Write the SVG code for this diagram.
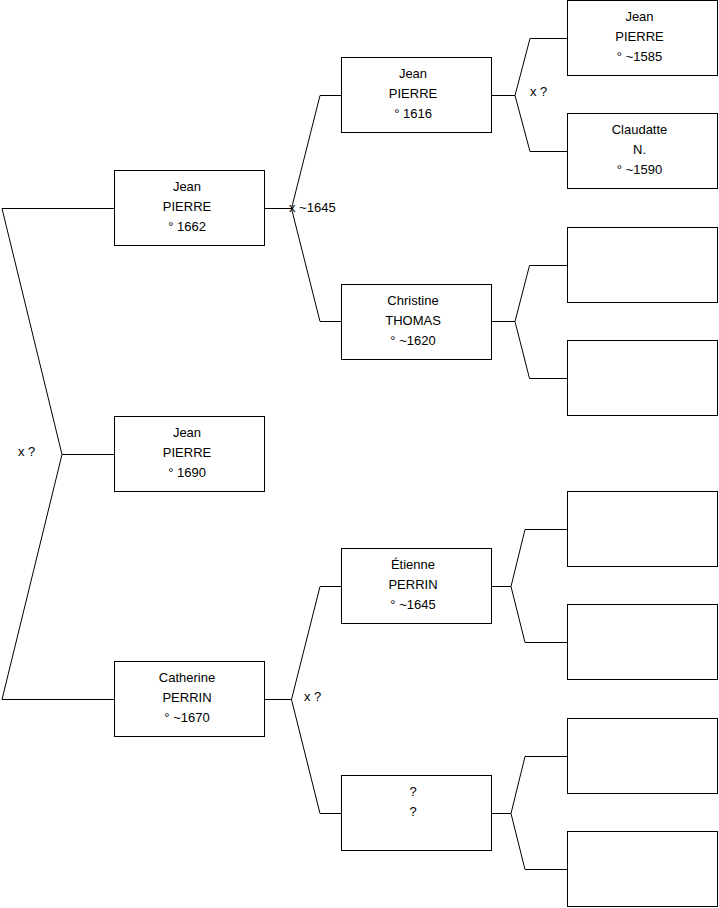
<svg xmlns="http://www.w3.org/2000/svg" width="719" height="908" viewBox="0 0 719 908">
<style>
.box rect{fill:#fff;stroke:#000;stroke-width:1}
text{font-family:"Liberation Sans",Arial,sans-serif;font-size:13px;fill:#000}
.box text{text-anchor:middle}
.conn path{fill:none;stroke:#000;stroke-width:1}
</style>
<rect width="719" height="908" fill="#fff"/>
<g class="conn" id="connectors">
<path d="M114,208.5 H2 L62,454.5 L2,699.5 H114 M62,454.5 H114"/>
<path d="M265,208.5 H291.5 L320,95.5 H341 M291.5,208.5 L320,321.5 H341"/>
<path d="M265,699.5 H291.5 L320,586.5 H341 M291.5,699.5 L320,813.5 H341"/>
<path d="M492,95.5 H515 L530,38.5 H567 M515,95.5 L530,151.5 H567"/>
<path d="M492,321.5 H515 L529.5,265.5 H567 M515,321.5 L529.5,378.5 H567"/>
<path d="M492,586.5 H511 L525,529.5 H567 M511,586.5 L525,642.5 H567"/>
<path d="M492,813.5 H511 L525,756.5 H567 M511,813.5 L525,869.5 H567"/>
</g>
<g id="labels">
<text x="18" y="456">x ?</text>
<text x="289" y="212">x ~1645</text>
<text x="530" y="96">x ?</text>
<text x="304" y="701">x ?</text>
</g>
<g class="box" id="p1"><rect x="114.5" y="170.5" width="150" height="75"/><text x="187" y="190.5">Jean</text><text x="187" y="210.5">PIERRE</text><text x="187" y="230.5">° 1662</text></g>
<g class="box" id="p0"><rect x="114.5" y="416.5" width="150" height="75"/><text x="187" y="436.5">Jean</text><text x="187" y="456.5">PIERRE</text><text x="187" y="476.5">° 1690</text></g>
<g class="box" id="p2"><rect x="114.5" y="661.5" width="150" height="75"/><text x="187" y="681.5">Catherine</text><text x="187" y="701.5">PERRIN</text><text x="187" y="721.5">° ~1670</text></g>
<g class="box" id="p3"><rect x="341.5" y="57.5" width="150" height="75"/><text x="413" y="77.5">Jean</text><text x="413" y="97.5">PIERRE</text><text x="413" y="117.5">° 1616</text></g>
<g class="box" id="p4"><rect x="341.5" y="284.5" width="150" height="75"/><text x="413" y="304.5">Christine</text><text x="413" y="324.5">THOMAS</text><text x="413" y="344.5">° ~1620</text></g>
<g class="box" id="p5"><rect x="341.5" y="548.5" width="150" height="75"/><text x="413" y="568.5">Étienne</text><text x="413" y="588.5">PERRIN</text><text x="413" y="608.5">° ~1645</text></g>
<g class="box" id="p6"><rect x="341.5" y="775.5" width="150" height="75"/><text x="413" y="795.5">?</text><text x="413" y="815.5">?</text></g>
<g class="box" id="p7"><rect x="567.5" y="0.5" width="150" height="75"/><text x="639.5" y="20.5">Jean</text><text x="639.5" y="40.5">PIERRE</text><text x="639.5" y="60.5">° ~1585</text></g>
<g class="box" id="p8"><rect x="567.5" y="113.5" width="150" height="75"/><text x="639.5" y="133.5">Claudatte</text><text x="639.5" y="153.5">N.</text><text x="639.5" y="173.5">° ~1590</text></g>
<g class="box" id="p9"><rect x="567.5" y="227.5" width="150" height="75"/></g>
<g class="box" id="p10"><rect x="567.5" y="340.5" width="150" height="75"/></g>
<g class="box" id="p11"><rect x="567.5" y="491.5" width="150" height="75"/></g>
<g class="box" id="p12"><rect x="567.5" y="604.5" width="150" height="75"/></g>
<g class="box" id="p13"><rect x="567.5" y="718.5" width="150" height="75"/></g>
<g class="box" id="p14"><rect x="567.5" y="831.5" width="150" height="75"/></g>
</svg>
